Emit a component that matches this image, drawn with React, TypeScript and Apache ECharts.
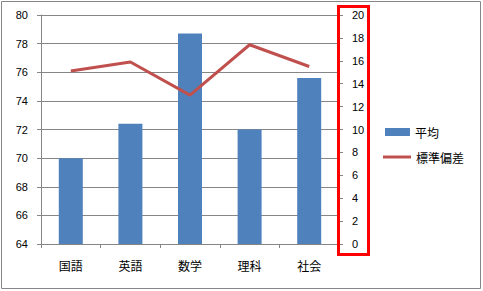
import React, { useEffect, useRef } from "react";
import * as echarts from "echarts";

// Subjects and their statistics
const subjects: string[] = ["国語", "英語", "数学", "理科", "社会"];
const averages: number[] = [70.0, 72.4, 78.7, 72.0, 75.6];
const stdDevs: number[] = [15.1, 15.9, 13.0, 17.4, 15.5];

const seriesNames: string[] = ["平均", "標準偏差"];

const W = 483;
const H = 291;

const GRAY = "#868686";
const BLUE = "#4F81BD";
const RED = "#C0504D";
const NUM_FONT = "'Liberation Sans', Arial, sans-serif";
const CJK_FONT = "'Noto Sans CJK JP', 'Noto Sans', sans-serif";

export default function App() {
  const ref = useRef<HTMLDivElement>(null);

  useEffect(() => {
    document.body.style.margin = "0";
    if (!ref.current) return;
    const chart = echarts.init(ref.current, undefined, { renderer: "svg" });

    const axisCommon = {
      axisLine: { show: true, lineStyle: { color: GRAY, width: 1 } },
      axisTick: { show: true, inside: false, length: 4, lineStyle: { color: GRAY } },
    };

    chart.setOption({
      animation: false,
      backgroundColor: "#ffffff",
      grid: { left: 41, right: W - 339, top: 15, bottom: H - 244, containLabel: false },
      legend: [
        {
          data: [{ name: seriesNames[0], icon: "rect" }],
          left: 385,
          top: 126,
          padding: 0,
          itemWidth: 25,
          itemHeight: 8,
          textStyle: { fontFamily: CJK_FONT, fontSize: 12, color: "#000" },
          selectedMode: false,
        },
        {
          data: [{ name: seriesNames[1], icon: "rect" }],
          left: 383,
          top: 151,
          padding: 0,
          itemWidth: 28,
          itemHeight: 3,
          textStyle: { fontFamily: CJK_FONT, fontSize: 12, color: "#000" },
          selectedMode: false,
        },
      ],
      xAxis: {
        type: "category",
        data: subjects,
        ...axisCommon,
        axisLabel: { margin: 15, fontFamily: CJK_FONT, fontSize: 12, color: "#000" },
        splitLine: { show: false },
      },
      yAxis: [
        {
          type: "value",
          position: "left",
          min: 64,
          max: 80,
          interval: 2,
          ...axisCommon,
          axisLabel: { margin: 13, fontFamily: NUM_FONT, fontSize: 11, color: "#000" },
          splitLine: { show: true, lineStyle: { color: GRAY, width: 1 } },
        },
        {
          type: "value",
          position: "right",
          min: 0,
          max: 20,
          interval: 2,
          ...axisCommon,
          axisLabel: { margin: 13, fontFamily: NUM_FONT, fontSize: 11, color: "#000" },
          splitLine: { show: false },
        },
      ],
      series: [
        {
          name: seriesNames[0],
          type: "bar",
          data: averages,
          yAxisIndex: 0,
          barWidth: 24,
          itemStyle: { color: BLUE },
        },
        {
          name: seriesNames[1],
          type: "line",
          data: stdDevs,
          yAxisIndex: 1,
          symbol: "none",
          lineStyle: { color: RED, width: 3 },
          itemStyle: { color: RED },
        },
      ],
      graphic: [
        {
          type: "rect",
          z: 100,
          shape: { x: 1.5, y: 1.5, width: 479, height: 287 },
          style: { fill: "none", stroke: GRAY, lineWidth: 1 },
        },
        {
          type: "rect",
          z: 100,
          shape: { x: 338.5, y: 6.5, width: 30, height: 248 },
          style: { fill: "none", stroke: "#FF0000", lineWidth: 3 },
        },
      ],
    });

    return () => chart.dispose();
  }, []);

  return (
    <div
      ref={ref}
      style={{ position: "fixed", left: 0, top: 0, width: W, height: H }}
    />
  );
}
